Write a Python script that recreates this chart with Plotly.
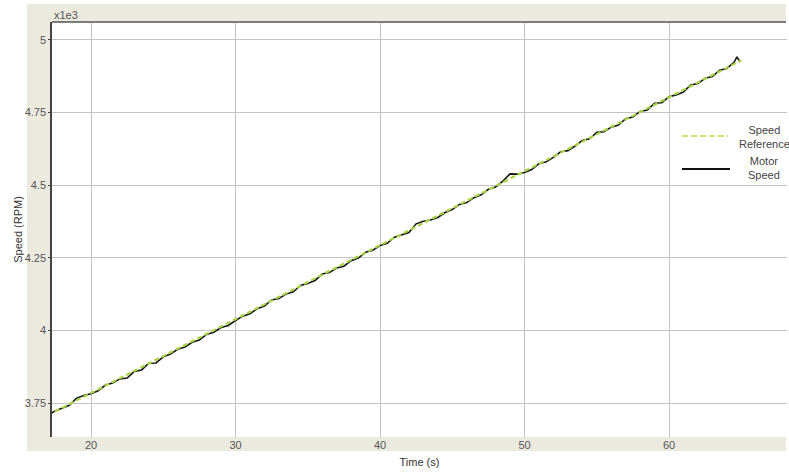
import plotly.graph_objects as go

# ---- data ----
ref_time = [17.0, 29.0, 41.0, 53.0, 65.0]
ref_speed = [3708, 4014, 4319, 4624, 4930]  # RPM

motor_time = [17.0, 17.5, 18.0, 18.5, 19.0, 19.5, 20.0, 20.5, 21.0, 21.5,
              22.0, 22.5, 23.0, 23.5, 24.0, 24.5, 25.0, 25.5, 26.0, 26.5,
              27.0, 27.5, 28.0, 28.5, 29.0, 29.5, 30.0, 30.5, 31.0, 31.5,
              32.0, 32.5, 33.0, 33.5, 34.0, 34.5, 35.0, 35.5, 36.0, 36.5,
              37.0, 37.5, 38.0, 38.5, 39.0, 39.5, 40.0, 40.5, 41.0, 41.5,
              42.0, 42.5, 43.0, 43.5, 44.0, 44.5, 45.0, 45.5, 46.0, 46.5,
              47.0, 47.5, 48.0, 48.5, 49.0, 49.5, 50.0, 50.5, 51.0, 51.5,
              52.0, 52.5, 53.0, 53.5, 54.0, 54.5, 55.0, 55.5, 56.0, 56.5,
              57.0, 57.5, 58.0, 58.5, 59.0, 59.5, 60.0, 60.5, 61.0, 61.5,
              62.0, 62.5, 63.0, 63.5, 64.0, 64.5, 64.7, 64.9]
motor_speed = [3705, 3723, 3732, 3742, 3767, 3776, 3782, 3792, 3812, 3819,
               3833, 3836, 3859, 3864, 3887, 3888, 3909, 3919, 3935, 3943,
               3959, 3967, 3986, 3994, 4010, 4017, 4034, 4049, 4057, 4075,
               4084, 4105, 4110, 4125, 4133, 4155, 4162, 4172, 4194, 4199,
               4215, 4221, 4240, 4249, 4269, 4276, 4292, 4300, 4321, 4328,
               4337, 4367, 4376, 4380, 4389, 4406, 4416, 4434, 4440, 4457,
               4467, 4486, 4494, 4514, 4539, 4538, 4544, 4554, 4574, 4581,
               4596, 4615, 4619, 4635, 4654, 4660, 4682, 4684, 4700, 4707,
               4729, 4735, 4754, 4759, 4782, 4784, 4805, 4811, 4821, 4845,
               4850, 4868, 4874, 4896, 4902, 4923, 4942, 4926]

x_ticks = [20, 30, 40, 50, 60]
y_ticks = [3.75, 4.0, 4.25, 4.5, 4.75, 5.0]
y_tick_text = ["3.75", "4", "4.25", "4.5", "4.75", "5"]
series_names = ["Speed Reference", "Motor Speed"]
scale = 1000.0

# ---- layout geometry (pixels) ----
W, H = 789, 475
L, R, T, B = 52, 2, 22, 38
PW, PH = W - L - R, H - T - B


def px(xp):
    return (xp - L) / PW


def py(yp):
    return (H - B - yp) / PH


BEIGE = "#ece9df"
GREEN = "#acd544"
FONT = "Liberation Sans, Arial, sans-serif"

fig = go.Figure()
fig.add_trace(go.Scatter(
    x=motor_time, y=[v / scale for v in motor_speed], mode="lines",
    name=series_names[1], line=dict(color="#151515", width=1.6),
    showlegend=False))
fig.add_trace(go.Scatter(
    x=ref_time, y=[v / scale for v in ref_speed], mode="lines",
    name=series_names[0], line=dict(color=GREEN, width=2.2, dash="5px,3px"),
    showlegend=False))

shapes = [
    # beige panel
    dict(type="rect", xref="paper", yref="paper", x0=px(27), x1=px(786),
         y0=py(451), y1=py(4), fillcolor=BEIGE, line=dict(width=0), layer="below"),
    # white plot area
    dict(type="rect", xref="paper", yref="paper", x0=0, x1=px(786),
         y0=0, y1=1, fillcolor="white", line=dict(width=0), layer="below"),
    # top border
    dict(type="line", xref="paper", yref="paper", x0=0, x1=px(786),
         y0=1, y1=1, line=dict(color="#555555", width=1.5)),
    # legend symbols
    dict(type="line", xref="paper", yref="paper", x0=px(682), x1=px(728),
         y0=py(136), y1=py(136), line=dict(color="#cce673", width=2, dash="6px,3px")),
    dict(type="line", xref="paper", yref="paper", x0=px(682), x1=px(730),
         y0=py(169), y1=py(169), line=dict(color="#111111", width=2.2)),
]

annotations = [
    dict(text="x1e3", xref="paper", yref="paper", x=0, y=py(15),
         xanchor="left", yanchor="middle", showarrow=False,
         font=dict(family=FONT, size=11, color="#555555")),
    dict(text="Speed<br>Reference", xref="paper", yref="paper", x=px(764), y=py(137),
         xanchor="center", yanchor="middle", showarrow=False,
         font=dict(family=FONT, size=11, color="#444444")),
    dict(text="Motor<br>Speed", xref="paper", yref="paper", x=px(764), y=py(168),
         xanchor="center", yanchor="middle", showarrow=False,
         font=dict(family=FONT, size=11, color="#444444")),
]

x0 = 17.3
x1 = 17.3 + PW / 14.45
y_top = 5.0 + (40 - T) / 290.6
y_bot = 3.75 - (H - B - 403) / 290.6

fig.update_layout(
    width=W, height=H,
    margin=dict(l=L, r=R, t=T, b=B, autoexpand=False),
    paper_bgcolor="white", plot_bgcolor="rgba(0,0,0,0)",
    font=dict(family=FONT, size=11, color="#444444"),
    shapes=shapes, annotations=annotations, showlegend=False,
    xaxis=dict(range=[x0, x1], tickvals=x_ticks, ticktext=[str(v) for v in x_ticks],
               showgrid=True, gridcolor="#c4c4c4", gridwidth=1.2,
               zeroline=False, showline=False, ticks="",
               tickfont=dict(family=FONT, size=11, color="#555555"),
               title=dict(text="Time (s)", standoff=8,
                          font=dict(family=FONT, size=11, color="#333333"))),
    yaxis=dict(range=[y_bot, y_top], tickvals=y_ticks, ticktext=y_tick_text,
               showgrid=True, gridcolor="#c4c4c4", gridwidth=1.2,
               zeroline=False, showline=True, linecolor="#444444", linewidth=1.5,
               ticks="outside", ticklen=2, tickcolor="#444444",
               tickfont=dict(family=FONT, size=11, color="#555555"),
               title=dict(text="Speed (RPM)", standoff=0,
                          font=dict(family=FONT, size=11, color="#333333"))),
)

fig.write_html("out.html")
